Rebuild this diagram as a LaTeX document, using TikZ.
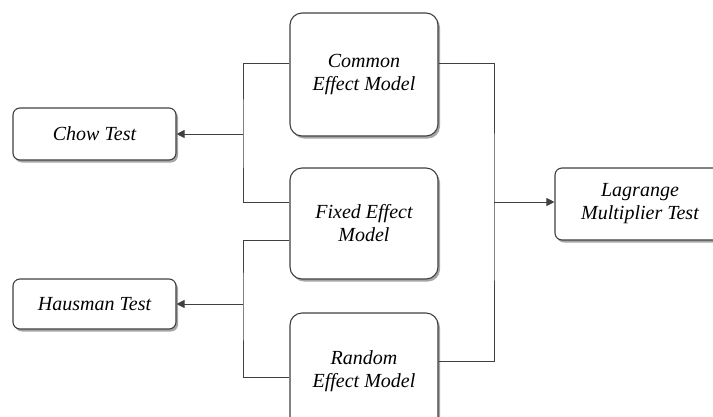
\documentclass[tikz,border=0pt]{standalone}
\usepackage{fontspec}
\setmainfont{Liberation Serif}
\usetikzlibrary{arrows.meta,positioning,shadows}

\definecolor{edgegray}{HTML}{404040}

\begin{document}
\begin{tikzpicture}[x=1pt, y=-1pt,
    every node/.style={font=\itshape\fontsize{20}{23}\selectfont},
    bx/.style={rectangle, rounded corners=12pt, draw=edgegray, line width=1.1pt,
               fill=white, align=center, inner sep=2pt,
               drop shadow={shadow xshift=2pt, shadow yshift=-2.5pt,
                            opacity=0.35, fill=black}},
    sm/.style={bx, rounded corners=7pt},
    ln/.style={draw=edgegray, line width=0.9pt},
    e/.style={ln, -{Triangle[length=8pt, width=8pt]}},
  ]
  \useasboundingbox (0,0) rectangle (713,416);
  % models
  \node[bx, minimum width=148pt, minimum height=123pt] (common) at (364, 74.5) {Common\\Effect Model};
  \node[bx, minimum width=148pt, minimum height=111pt] (fixed) at (364, 223.5) {Fixed Effect\\Model};
  \node[bx, minimum width=148pt, minimum height=117pt] (random) at (364, 371.5) {Random\\Effect Model};
  % tests
  \node[sm, minimum width=163pt, minimum height=52pt] (chow) at (94.5, 134) {Chow Test};
  \node[sm, minimum width=163pt, minimum height=50pt] (hausman) at (94.5, 304) {Hausman Test};
  \node[sm, minimum width=170pt, minimum height=72pt] (lm) at (640, 204) {Lagrange\\Multiplier Test};
  % junctions
  \coordinate (jchow) at (243, 134);
  \coordinate (jhaus) at (243, 304);
  \coordinate (jlm) at (494, 202);
  \draw[ln] ([yshift=11.5pt]common.west) -| (jchow) |- ([yshift=21.5pt]fixed.west);
  \draw[e] (jchow) -- (chow.east);
  \draw[ln] ([yshift=-16.5pt]fixed.west) -| (jhaus) |- ([yshift=-5.5pt]random.west);
  \draw[e] (jhaus) -- (hausman.east);
  \draw[ln] ([yshift=11.5pt]common.east) -| (jlm) |- ([yshift=10.5pt]random.east);
  \draw[e] (jlm) -- (lm.west |- jlm);
\end{tikzpicture}
\end{document}
